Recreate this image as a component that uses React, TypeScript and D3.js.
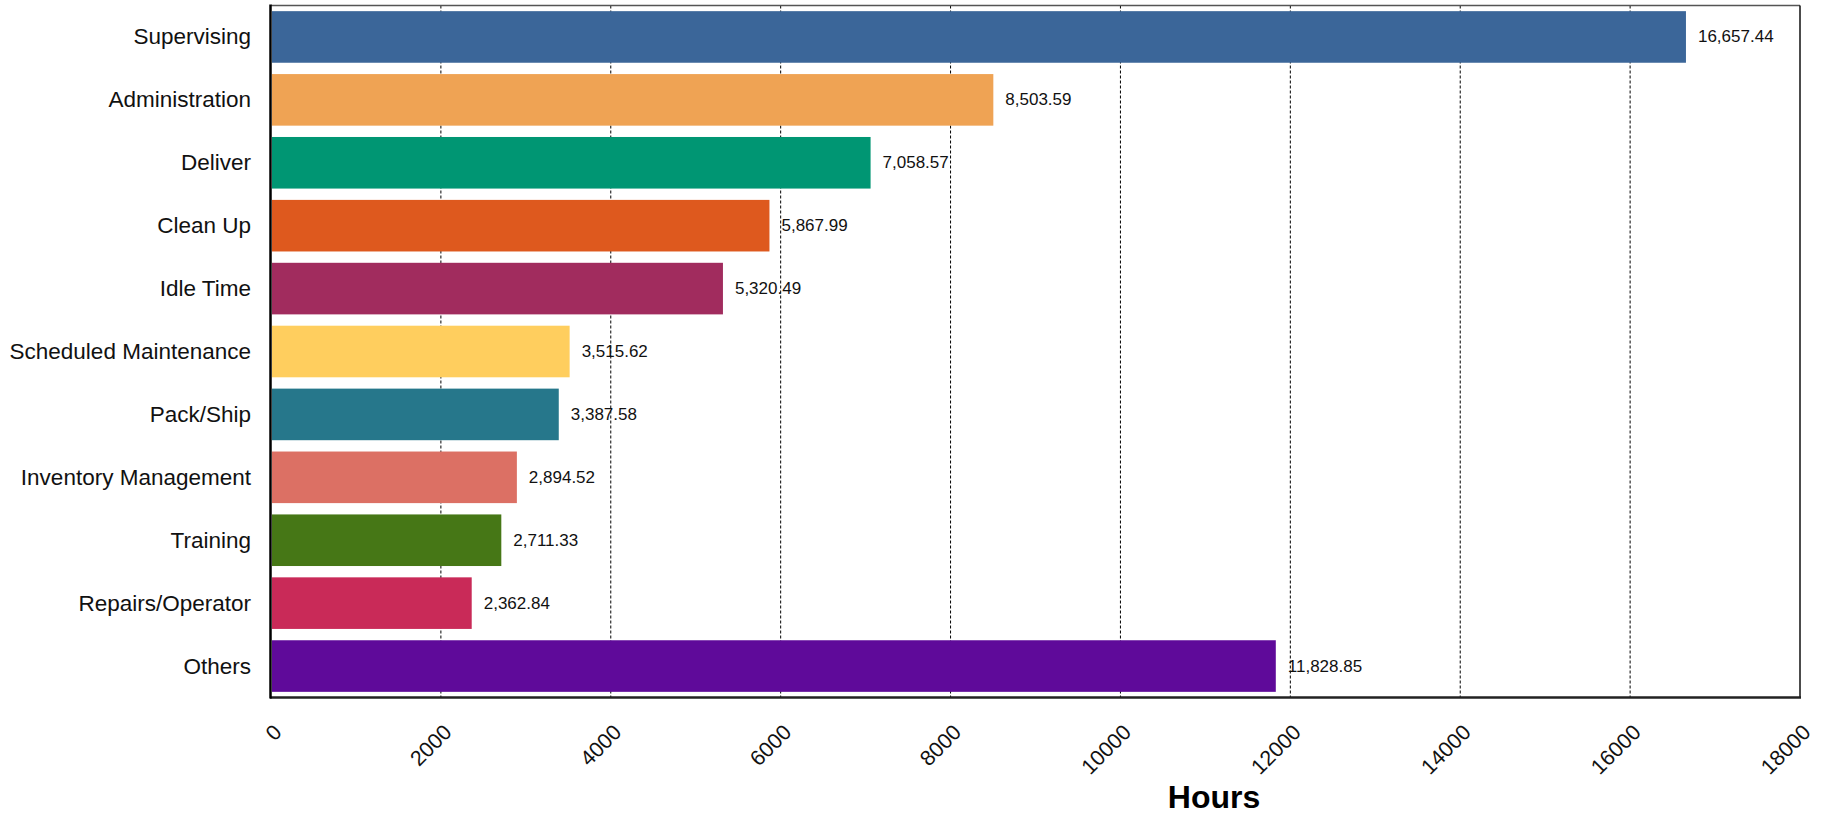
import React, { useEffect } from "react";
import * as d3 from "d3";

const categories: string[] = [
  "Supervising",
  "Administration",
  "Deliver",
  "Clean Up",
  "Idle Time",
  "Scheduled Maintenance",
  "Pack/Ship",
  "Inventory Management",
  "Training",
  "Repairs/Operator",
  "Others",
];

const hours: number[] = [
  16657.44, 8503.59, 7058.57, 5867.99, 5320.49, 3515.62, 3387.58, 2894.52,
  2711.33, 2362.84, 11828.85,
];

const barColors: string[] = [
  "#3B6699",
  "#EFA354",
  "#009673",
  "#DE591E",
  "#A12C5E",
  "#FFCE5E",
  "#26778B",
  "#DC7064",
  "#467716",
  "#C92A58",
  "#5F0A9A",
];

const xTicks: number[] = [0, 2000, 4000, 6000, 8000, 10000, 12000, 14000, 16000, 18000];
const xMax = 18000;
const xTitle = "Hours";

const W = 1823;
const H = 816;
const M = { left: 271, right: 23, top: 5.5, bottom: 118.5 };
const FONT = "'Liberation Sans', Arial, sans-serif";

export default function App() {
  useEffect(() => {
    document.body.style.margin = "0";
  }, []);

  const x = d3.scaleLinear().domain([0, xMax]).range([M.left, W - M.right]);
  const y = d3
    .scaleBand<string>()
    .domain(categories)
    .range([M.top, H - M.bottom])
    .paddingInner(0.18)
    .paddingOuter(0.09);

  const fmt = d3.format(",.2f");
  const bottom = H - M.bottom;
  const right = W - M.right;

  return (
    <svg width={W} height={H} style={{ display: "block", fontFamily: FONT }}>
      <rect x={0} y={0} width={W} height={H} fill="#fff" />
      {/* gridlines */}
      {xTicks
        .filter((t) => t > 0 && t < xMax)
        .map((t) => (
          <line
            key={"g" + t}
            x1={x(t)}
            x2={x(t)}
            y1={M.top}
            y2={bottom}
            stroke="#000"
            strokeWidth={1}
            strokeDasharray="3,2"
          />
        ))}
      {/* bars */}
      {categories.map((c, i) => (
        <rect
          key={c}
          x={x(0) + 1}
          y={y(c)!}
          width={x(hours[i]) - x(0) - 1}
          height={y.bandwidth()}
          fill={barColors[i]}
        />
      ))}
      {/* value labels */}
      {categories.map((c, i) => (
        <text
          key={"v" + c}
          x={x(hours[i]) + 12}
          y={y(c)! + y.bandwidth() / 2}
          dominantBaseline="central"
          fontSize={17}
          fill="#111"
        >
          {fmt(hours[i])}
        </text>
      ))}
      {/* frame */}
      <line x1={M.left} x2={right} y1={M.top} y2={M.top} stroke="#555" strokeWidth={1.5} />
      <line x1={right} x2={right} y1={M.top} y2={bottom} stroke="#111" strokeWidth={1.5} />
      <line x1={M.left - 1} x2={right + 1} y1={bottom} y2={bottom} stroke="#222" strokeWidth={2.5} />
      <line x1={M.left - 0.5} x2={M.left - 0.5} y1={M.top - 1} y2={bottom + 1} stroke="#000" strokeWidth={2.5} />
      {/* y labels */}
      {categories.map((c) => (
        <text
          key={"y" + c}
          x={M.left - 20}
          y={y(c)! + y.bandwidth() / 2}
          textAnchor="end"
          dominantBaseline="central"
          fontSize={22.5}
          fill="#111"
        >
          {c}
        </text>
      ))}
      {/* x tick labels */}
      {xTicks.map((t) => (
        <text
          key={"x" + t}
          transform={`translate(${x(t) + 12},${bottom + 36}) rotate(-45)`}
          textAnchor="end"
          fontSize={21.5}
          fill="#111"
        >
          {t}
        </text>
      ))}
      <text x={1214} y={808} textAnchor="middle" fontSize={32} fontWeight="bold" fill="#000">
        {xTitle}
      </text>
    </svg>
  );
}
